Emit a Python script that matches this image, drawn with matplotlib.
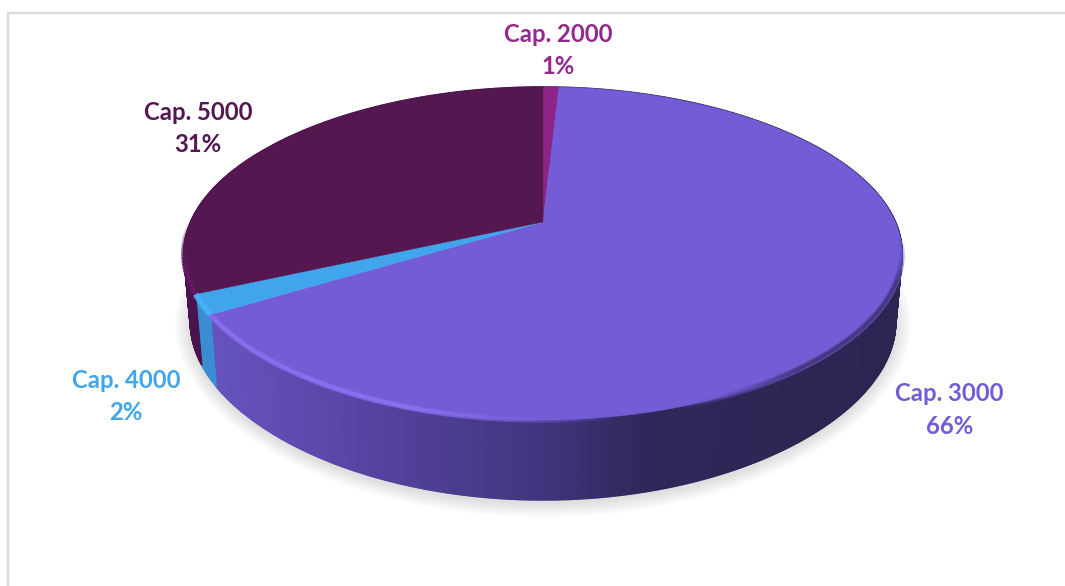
import numpy as np
import matplotlib
matplotlib.use("Agg")
import matplotlib.pyplot as plt
from matplotlib.collections import LineCollection, PolyCollection
from matplotlib.colors import to_rgb

# ---- data ----
categories = ["Cap. 2000", "Cap. 3000", "Cap. 4000", "Cap. 5000"]
shares = [0.8, 66.2, 2.0, 31.0]
percent_labels = ["1%", "66%", "2%", "31%"]

# ---- styles ----
top_colors = ["#8E2488", "#745CD6", "#41A5EE", "#54174F"]
label_colors = ["#93278F", "#745CD6", "#41A5EE", "#54174F"]
label_xy = {"Cap. 2000": (558.5, 34.5), "Cap. 3000": (949.5, 393.5),
            "Cap. 4000": (126, 380.5), "Cap. 5000": (198, 112.5)}

CX, CY, RX, RY, K, KX = 543.0, 222.0, 356.0, 160.5, 0.189, 0.13
SAG = 10.0
SHRINK = 0.982


def proj(theta, r=1.0, bottom=False):
    u, v = r * np.sin(theta), r * np.cos(theta)
    shrink = SHRINK if bottom else 1.0
    dz = (80.0 - 11.0 * u * u) if bottom else 0.0
    x = CX + RX * shrink * u / (1.0 + KX * v)
    y = CY - RY * v / (1.0 + K * v) + SAG * u * u + dz
    return x, y


def mix(a, b, t):
    a, b = np.array(to_rgb(a)), np.array(to_rgb(b))
    return tuple(a + (b - a) * np.clip(t, 0, 1))


def wall_purple(x):
    xs = [205, 300, 400, 540, 650, 905]
    cs = ["#6753BE", "#5E4AAE", "#52409A", "#42357E", "#2F2758", "#2C2552"]
    arr = np.array([to_rgb(c) for c in cs])
    return tuple(np.interp(x, xs, arr[:, i]) for i in range(3))


fig = plt.figure(figsize=(10.65, 5.86), dpi=100, facecolor="white")
ax = fig.add_axes([0, 0, 1, 1])
ax.set_xlim(0, 1065)
ax.set_ylim(586, 0)
ax.axis("off")

# outer frame of the chart area
ax.plot([8, 8, 1065], [586, 13, 13], color="#D9D9D9", lw=1.6, zorder=1,
        solid_joinstyle="miter")

# soft shadow
th = np.linspace(0, 2 * np.pi, 360)
for i in range(16):
    grow = 16 - i
    x, y = proj(th, bottom=True)
    y = y + 3
    x = CX + (x - CX) * (1 + grow / 354.0)
    y = (CY + 110) + (y - (CY + 110)) * (1 + grow / 185.0)
    ax.fill(x, y, color="black", alpha=0.0085, lw=0, zorder=2)

# slice angles, clockwise from the top
edges = np.radians(np.concatenate([[0], np.cumsum(shares)]) / sum(shares) * 360)

# side wall
for i, (a, b) in enumerate(zip(edges[:-1], edges[1:])):
    n = max(4, int((b - a) * 120))
    t = np.linspace(a, b, n + 1)
    polys, cols = [], []
    for t0, t1 in zip(t[:-1], t[1:]):
        x0, y0 = proj(t0)
        x1, y1 = proj(t1)
        x2, y2 = proj(t1, bottom=True)
        x3, y3 = proj(t0, bottom=True)
        polys.append([(x0, y0), (x1, y1), (x2, y2), (x3, y3)])
        xm = (x0 + x1) / 2
        if i == 1:
            cols.append(wall_purple(xm))
        elif i == 2:
            cols.append(to_rgb("#3A8DD0"))
        elif i == 3:
            cols.append(to_rgb("#4A1350"))
        else:
            cols.append(to_rgb("#6E1C6E"))
    ax.add_collection(PolyCollection(polys, facecolors=cols, edgecolors=cols,
                                     linewidths=1.2, zorder=3))

# top face
for i, (a, b) in enumerate(zip(edges[:-1], edges[1:])):
    t = np.linspace(a, b, max(4, int((b - a) * 120)))
    x, y = proj(t)
    ax.fill(np.r_[CX, x], np.r_[CY, y], color=top_colors[i], lw=0.3, zorder=4)

# bevel along the rim of the top face
for i, (a, b) in enumerate(zip(edges[:-1], edges[1:])):
    if i == 0:
        continue
    t = np.linspace(a, b, max(6, int((b - a) * 120)))
    for r, lw, strength in [(0.999, 4.5, 0.3), (0.999, 2.6, 0.7)]:
        x, y = proj(t, r=r)
        pts = np.column_stack([x, y])
        segs = np.stack([pts[:-1], pts[1:]], axis=1)
        cols = []
        for xm, tm in zip((x[:-1] + x[1:]) / 2, (t[:-1] + t[1:]) / 2):
            near = -np.cos(tm)
            if i == 1:
                light = np.clip((near + 0.1) * 3.0, 0, 1) * np.clip((620 - xm) / 200, 0, 1)
                dark = np.clip((xm - 680) / 120, 0, 1) * np.clip((near - 0.05) * 4, 0, 1)
                c = mix(top_colors[1], "#9078FA", light * strength)
                c = mix(c, "#2F2758", dark * strength)
                alpha = max(light, dark)
            elif i == 2:
                c = mix(top_colors[2], "#4AB8FF", strength)
                alpha = 1.0
            else:
                fade = np.clip((near + 0.05) * 4, 0, 1)
                c = mix(top_colors[3], "#671B70", strength * fade)
                alpha = fade
            cols.append((*c, alpha))
        ax.add_collection(LineCollection(segs, colors=cols, linewidths=lw,
                                         capstyle="butt", zorder=5))

# labels
for name, pct, col in zip(categories, percent_labels, label_colors):
    x, y = label_xy[name]
    ax.text(x, y, name, color=col, fontsize=17.2, fontweight="bold", family="Lato",
            ha="center", va="center", zorder=6)
    ax.text(x, y + 32.5, pct, color=col, fontsize=17.2, fontweight="bold", family="Lato",
            ha="center", va="center", zorder=6)

fig.savefig("out.png", dpi=100, facecolor="white")
